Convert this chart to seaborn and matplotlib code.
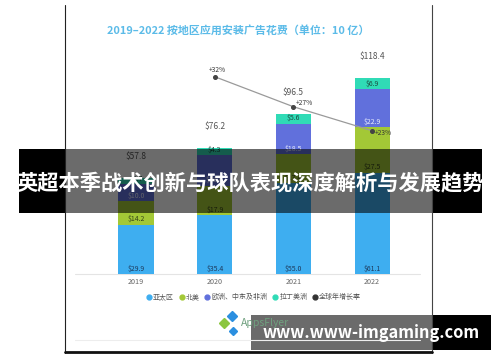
import pandas as pd
import matplotlib.pyplot as plt
import seaborn as sns
from matplotlib.lines import Line2D
from matplotlib.patches import Rectangle

# 数据
years = ['2019', '2020', '2021', '2022']
apac = [29.9, 35.4, 55.0, 61.1]
north_america = [14.2, 17.9, 17.4, 27.5]
emea = [10.0, 18.6, 18.5, 22.9]
latam = [3.7, 4.3, 5.6, 6.9]
totals = [57.8, 76.2, 96.5, 118.4]
growth_years = ['2020', '2021', '2022']
growth = [32, 27, 23]

region_names = ['亚太区', '北美', '欧洲、中东及非洲', '拉丁美洲']
region_colors = ['#3eaef0', '#a3c836', '#6170dc', '#30dbb6']
label_colors = ['#1d3a5c', '#34421a', '#e8ecff', '#1b4a3f']
title = '2019–2022 按地区应用安装广告花费（单位：10 亿）'
banner = '英超本季战术创新与球队表现深度解析与发展趋势'
url = 'www.www-imgaming.com'

sns.set_theme(style='white')
plt.rcParams['font.family'] = ['Noto Sans CJK SC', 'DejaVu Sans']

fig = plt.figure(figsize=(5, 3.62), dpi=100)
fig.patch.set_facecolor('white')
W, H = 500, 362
ax = fig.add_axes([96.7 / W, 1 - 274 / H, 314.7 / W, 224 / H])

series = [apac, north_america, emea, latam]
df = pd.DataFrame({'year': years})
cum = [0] * len(years)
cums = []
for s in series:
    cum = [c + v for c, v in zip(cum, s)]
    cums.append(cum)

# 堆叠柱：从最高的累计值开始画
for i in reversed(range(len(series))):
    df['v'] = cums[i]
    sns.barplot(data=df, x='year', y='v', color=region_colors[i], width=0.446,
                saturation=1, linewidth=0, ax=ax)

# 每段底部的数值
for i, s in enumerate(series):
    for j, v in enumerate(s):
        bottom = cums[i][j] - v
        ax.annotate(f'${v:.1f}', (j, bottom), xytext=(0, 1.2), textcoords='offset points',
                    ha='center', va='bottom', fontsize=5, color=label_colors[i])

# 总额
for j, t in enumerate(totals):
    ax.annotate(f'${t}', (j, t), xytext=(0, 15.5), textcoords='offset points',
                ha='center', va='center', fontsize=6, color='#555555')

ax.set_ylim(0, 224 / 1.655)
ax.set_xlim(-0.5, 3.5)
ax.set_xlabel('')
ax.set_ylabel('')
ax.set_yticks([])
ax.tick_params(axis='x', length=0, pad=3, labelsize=5.2, labelcolor='#666666')
sns.despine(ax=ax, left=True, bottom=True)
ax.axhline(0, xmin=-0.069, xmax=1.027, color='#e4e4e4', lw=0.8, clip_on=False, zorder=0)

# 增长率折线
ax2 = ax.twinx()
gx = [years.index(y) for y in growth_years]
ax2.plot(gx, growth, color='#9a9a9a', lw=0.9, marker='o', ms=2.6,
         mfc='#444444', mec='#444444', zorder=5)
ax2.set_ylim(-0.88, 36.45)
ax2.set_yticks([])
for sp in ax2.spines.values():
    sp.set_visible(False)
offsets = [(1.5, 4.5), (8, 2.5), (8, -2)]
for x, g, off in zip(gx, growth, offsets):
    ax2.annotate(f'+{g}%', (x, g), xytext=off, textcoords='offset points',
                 ha='center', va='center', fontsize=4.8, color='#333333')

fig.text(107 / W, 1 - 30 / H, title, ha='left', va='center', color='#5bbbe8',
         fontsize=7.9, fontweight='bold')

handles = [Line2D([], [], ls='none', marker='o', ms=3.5, color=c) for c in region_colors]
handles.append(Line2D([], [], ls='none', marker='o', ms=3.5, color='#333333'))
leg = fig.legend(handles, region_names + ['全球年增长率'], loc='center',
                 bbox_to_anchor=(254 / W, 1 - 297 / H), ncol=5, frameon=False,
                 fontsize=5, handlelength=0.6, handletextpad=0.3, columnspacing=0.8)
for t in leg.get_texts():
    t.set_color('#555555')

# 覆盖层：卡片边框、标志、横幅
ov = fig.add_axes([0, 0, 1, 1])
ov.set_xlim(0, W)
ov.set_ylim(H, 0)
ov.axis('off')
ov.plot([75, 420], [340, 340], color='#ededed', lw=0.8)
ov.plot([65, 65], [5, 353], color='#222222', lw=0.8)
ov.plot([432, 432], [5, 353], color='#444444', lw=0.8)
ov.plot([65, 432], [352, 352], color='#111111', lw=2)

ov.plot([232], [316], marker='D', ms=5, color='#2b8fe0', ls='none')
ov.plot([224], [323], marker='D', ms=5, color='#8cc63f', ls='none')
ov.plot([233], [331], marker='D', ms=4.5, color='#2b8fe0', ls='none')
ov.text(241, 323, 'AppsFlyer', ha='left', va='center', fontsize=7.5, color='#6fa07e')

ov.add_patch(Rectangle((19, 149), 46, 63.5, color='black', lw=0))
ov.add_patch(Rectangle((65, 149), 367, 63.5, color='black', alpha=0.58, lw=0))
ov.add_patch(Rectangle((432, 149), 49.5, 63.5, color='black', lw=0))
ov.text(250, 183, banner, ha='center', va='center', color='white',
        fontsize=15.3, fontweight='bold')

ov.add_patch(Rectangle((250.5, 315), 181.5, 35, color='black', alpha=0.58, lw=0))
ov.add_patch(Rectangle((432, 315), 59, 35, color='black', lw=0))
ov.text(371, 333, url, ha='center', va='center', color='white',
        fontsize=11.8, fontweight='bold')

fig.savefig('out.png', dpi=100)
